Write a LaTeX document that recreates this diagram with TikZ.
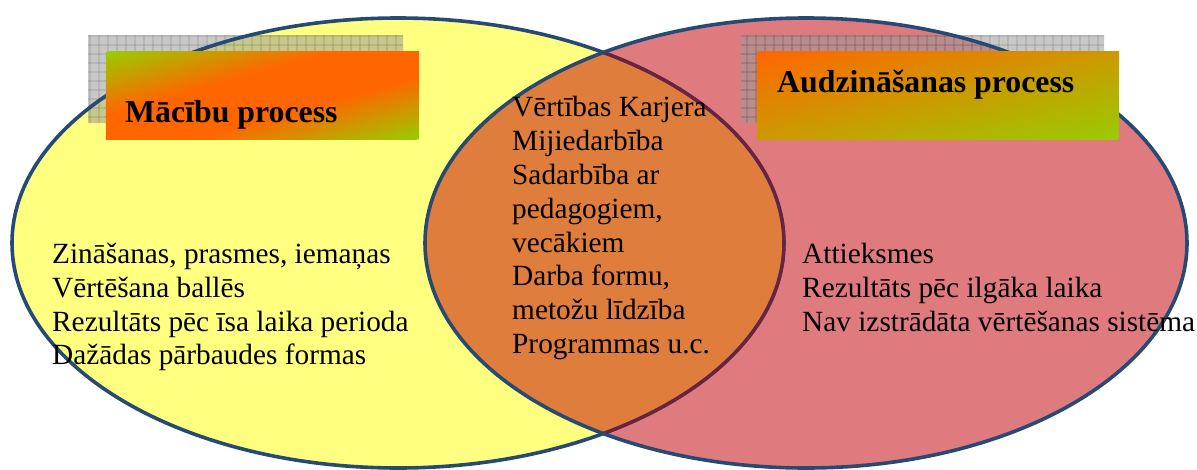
\documentclass[tikz,border=0pt]{standalone}
\usepackage{fontspec}
\setmainfont{Liberation Serif}
\definecolor{yel}{HTML}{FFFF80}
\definecolor{pnk}{HTML}{DF7B7F}
\definecolor{org}{HTML}{DE7D3C}
\definecolor{edgeblue}{HTML}{264A73}
\definecolor{maroon}{HTML}{741E3A}
\definecolor{gbase}{HTML}{9B9B9B}
\definecolor{gline}{HTML}{404040}
\definecolor{sorange}{HTML}{FF6600}
\definecolor{lgreen}{HTML}{99CC00}
\pgfdeclareverticalshading{bandshade}{100bp}{color(0bp)=(lgreen); color(25bp)=(lgreen); color(43bp)=(sorange); color(57bp)=(sorange); color(75bp)=(lgreen); color(100bp)=(lgreen)}
\tikzset{
  outline/.style={draw=edgeblue, line width=3.6pt},
  inline/.style={draw=maroon, line width=3pt},
  gridbox/.style={fill=gbase},
  gridlines/.style={draw=gline, line width=0.7pt},
  titlebox/.style={rectangle, inner sep=0pt, minimum height=87pt},
  titletext/.style={font=\bfseries\fontsize{31.8pt}{38pt}\selectfont, inner sep=0pt},
  bodytext/.style={font=\fontsize{29.3pt}{33.8pt}\selectfont, align=left, inner sep=0pt, anchor=north west},
}
\newcommand{\lft}{(398,243) ellipse [x radius=386pt, y radius=225pt]}
\newcommand{\rgt}{(806,243) ellipse [x radius=381pt, y radius=225pt]}
\begin{document}
\begin{tikzpicture}[x=1pt,y=-1pt]
\useasboundingbox (0,0) rectangle (1197,469);
% ellipse fills
\fill[yel] \lft;
\fill[pnk] \rgt;
\begin{scope}
  \clip \lft;
  \fill[org] \rgt;
\end{scope}
% grey grid boxes (semi transparent)
\begin{scope}[transparency group, opacity=0.55]
  \fill[gridbox] (88,35) rectangle (403,123);
  \draw[gridlines, step=9pt] (88,35) grid (403,123);
  \fill[gridbox] (741,35) rectangle (1104,123);
  \draw[gridlines, step=9pt] (741,35) grid (1104,123);
\end{scope}
% outlines
\draw[outline] \lft;
\begin{scope}
  \clip \rgt;
  \draw[inline] \lft;
\end{scope}
\draw[outline] \rgt;
% title boxes
\node[titlebox, minimum width=313pt] (box1) at (262.5,95.5) {};
\node[titlebox, minimum width=362pt] (box2) at (938,95.5) {};
\begin{scope}
  \clip (box1.south west) rectangle (box1.north east);
  \begin{scope}[transform canvas={rotate around={15.53:(box1.center)}}]
    \shade[shading=bandshade]
      (92.5,11.7) rectangle (432.5,179.3);
  \end{scope}
\end{scope}
\begin{scope}
  \clip (box2.south west) rectangle (box2.north east);
  \begin{scope}[transform canvas={rotate around={13.51:(box2.center)}}]
    \shade[top color=sorange, bottom color=lgreen]
      (743,10.9) rectangle (1133,180.1);
  \end{scope}
\end{scope}
\node[titletext, anchor=base west] (title1) at (125,122) {Mācību process};
\node[titletext, anchor=base west] (title2) at (777,92) {Audzināšanas process};
% body texts
\node[bodytext] (leftlist) at (52,239.3) {\rule{0pt}{24pt}Zināšanas, prasmes, iemaņas\\Vērtēšana ballēs\\Rezultāts pēc īsa laika perioda\\Dažādas pārbaudes formas};
\node[bodytext] (midlist) at (512,92.7) {\rule{0pt}{24pt}Vērtības Karjera\\Mijiedarbība\\Sadarbība ar\\pedagogiem,\\vecākiem\\Darba formu,\\metožu līdzība\\Programmas u.c.};
\node[bodytext] (rightlist) at (802,239.3) {\rule{0pt}{24pt}Attieksmes\\Rezultāts pēc ilgāka laika\\Nav izstrādāta vērtēšanas sistēma};
\end{tikzpicture}
\end{document}
